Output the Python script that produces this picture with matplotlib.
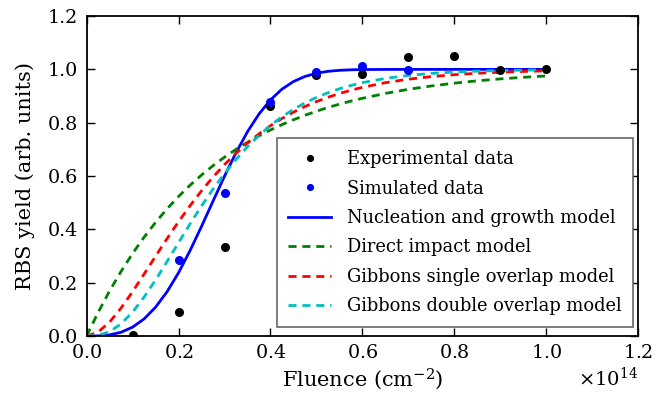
import matplotlib
matplotlib.use("Agg")
import matplotlib.pyplot as plt

# fluence in units of 1e14 cm^-2
exp_x = [0.1, 0.2, 0.3, 0.4, 0.5, 0.6, 0.7, 0.8, 0.9, 1.0]
exp_y = [0.005, 0.091, 0.335, 0.864, 0.978, 0.983, 1.045, 1.05, 0.998, 1.0]

sim_x = [0.2, 0.3, 0.4, 0.5, 0.6, 0.7]
sim_y = [0.285, 0.537, 0.879, 0.991, 1.011, 0.998]

# curves
curve_x = [0.0, 0.025, 0.05, 0.075, 0.1, 0.125, 0.15, 0.175, 0.2, 0.225, 0.25,
           0.275, 0.3, 0.325, 0.35, 0.375, 0.4, 0.425, 0.45, 0.475, 0.5,
           0.525, 0.55, 0.575, 0.6, 0.65, 0.7, 0.75, 0.8, 0.85, 0.9, 0.95, 1.0]

nucleation = [0.0, 0.0005, 0.0042, 0.0142, 0.0333, 0.0641, 0.1081, 0.1661,
              0.2375, 0.3203, 0.4112, 0.5058, 0.5996, 0.6877, 0.7662, 0.8326,
              0.8857, 0.9259, 0.9544, 0.9735, 0.9855, 0.9926, 0.9964, 0.9984,
              0.9993, 0.9998, 1.0, 1.0, 1.0, 1.0, 1.0, 1.0, 1.0]

direct = [0.0, 0.0884, 0.1691, 0.2425, 0.3095, 0.3706, 0.4262, 0.4770, 0.5232,
          0.5654, 0.6038, 0.6389, 0.6708, 0.7000, 0.7265, 0.7506, 0.7727,
          0.7928, 0.8111, 0.8278, 0.8431, 0.8570, 0.8696, 0.8811, 0.8916,
          0.9099, 0.9252, 0.9378, 0.9483, 0.9571, 0.9643, 0.9703, 0.9754]

single = [0.0, 0.0147, 0.0524, 0.1049, 0.1663, 0.2321, 0.2992, 0.3653, 0.4288,
          0.4887, 0.5446, 0.5961, 0.6430, 0.6854, 0.7238, 0.7582, 0.7887,
          0.8158, 0.8397, 0.8606, 0.8791, 0.8953, 0.9095, 0.9219, 0.9326,
          0.9501, 0.9632, 0.9729, 0.9801, 0.9854, 0.9894, 0.9923, 0.9944]

double = [0.0, 0.0025, 0.0163, 0.0456, 0.0898, 0.1459, 0.2102, 0.2795, 0.3501,
          0.4204, 0.4881, 0.5513, 0.6091, 0.6622, 0.7103, 0.7526, 0.7897,
          0.8222, 0.8502, 0.8743, 0.8948, 0.9123, 0.9273, 0.9396, 0.9502,
          0.9662, 0.9773, 0.9848, 0.9899, 0.9934, 0.9957, 0.9972, 0.9982]

plt.rcParams['font.family'] = 'DejaVu Serif'
plt.rcParams['mathtext.fontset'] = 'dejavuserif'
plt.rcParams['font.size'] = 13

scale = 1e14
dash = (2.9, 2.1)
fig = plt.figure(figsize=(6.56, 4.01), dpi=100)
ax = fig.add_axes([0.132, 0.162, 0.841, 0.798])

ax.plot([v * scale for v in exp_x], exp_y, 'ko', ms=5.5, mec='k', zorder=5,
        label='Experimental data')
ax.plot([v * scale for v in sim_x], sim_y, 'o', color='b', ms=5.5, mec='b',
        zorder=6, label='Simulated data')
xs = [v * scale for v in curve_x]
ax.plot(xs, nucleation, '-', color='b', lw=2, label='Nucleation and growth model')
ax.plot(xs, direct, '--', color='g', lw=2, dashes=dash,
        label='Direct impact model')
ax.plot(xs, single, '--', color='r', lw=2, dashes=dash,
        label='Gibbons single overlap model')
ax.plot(xs, double, '--', color='c', lw=2, dashes=dash,
        label='Gibbons double overlap model')

ax.set_xlim(0, 1.2e14)
ax.set_ylim(0, 1.2)
ax.set_xticks([i * 0.2e14 for i in range(7)])
ax.set_yticks([i * 0.2 for i in range(7)])
ax.ticklabel_format(axis='x', style='sci', scilimits=(0, 0), useMathText=True)
ax.tick_params(direction='in', top=True, right=True, length=6, width=1,
               labelsize=13.8, pad=6)
for s in ax.spines.values():
    s.set_linewidth(1.3)

ax.set_xlabel('Fluence (cm$^{-2}$)', fontsize=15, labelpad=3)
ax.set_ylabel('RBS yield (arb. units)', fontsize=15, labelpad=9)
ax.xaxis.get_offset_text().set_fontsize(14)

leg = ax.legend(loc='lower right', bbox_to_anchor=(0.99, 0.028),
                borderaxespad=0, numpoints=1, fontsize=12.9, handlelength=2.4,
                handletextpad=0.85, markerscale=0.75, fancybox=False,
                framealpha=1, labelspacing=0.64, borderpad=0.65)
leg.get_frame().set_edgecolor('0.4')
leg.get_frame().set_linewidth(1.2)

fig.savefig('out.png', dpi=100)
